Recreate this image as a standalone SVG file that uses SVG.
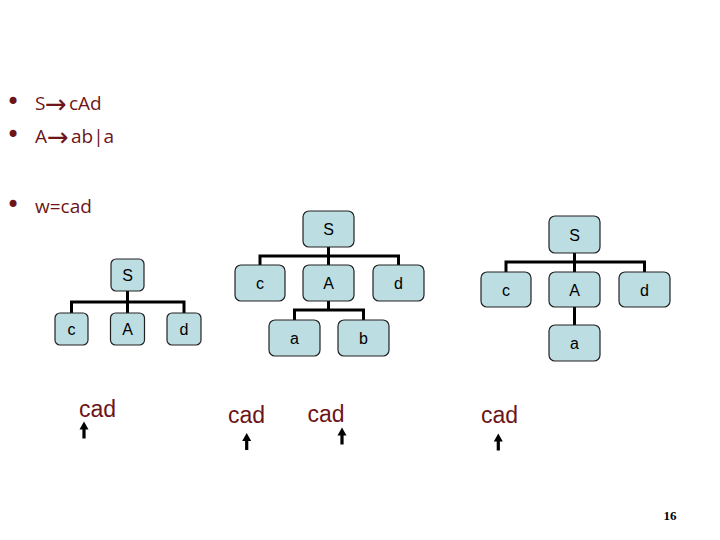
<svg xmlns="http://www.w3.org/2000/svg" width="720" height="540" viewBox="0 0 720 540">
<style>
.bul{font-family:"Open Sans","Noto Sans",sans-serif;font-size:19px;fill:#6d1519}
.dot{font-family:"DejaVu Sans",sans-serif;font-size:24px;fill:#6d1519;text-anchor:middle}
.arr{font-family:"DejaVu Sans",sans-serif;font-size:26px;fill:#6d1519}
.box{fill:#bcdde1;stroke:#222;stroke-width:1.2}
.lbl{font-family:"Liberation Sans",Arial,sans-serif;font-size:16px;fill:#000;text-anchor:middle}
.con{stroke:#000;stroke-width:3;fill:none}
.cad{font-family:"Liberation Sans",Arial,sans-serif;font-size:23px;fill:#6d1519}
.pn{font-family:"Liberation Serif","Times New Roman",serif;font-size:13px;font-weight:bold;fill:#000;text-anchor:middle}
</style>
<defs>
<path id="up" d="M0,0 L-4.5,8 L-1.6,8 L-1.6,17 L1.6,17 L1.6,8 L4.5,8 Z" fill="#000"/>
</defs>
<rect width="720" height="540" fill="#fff"/>

<g id="bullets">
<text class="dot" x="13" y="110">•</text>
<text class="bul" x="35" y="110">S</text>
<text class="arr" x="45" y="113">→</text>
<text class="bul" x="69" y="110">cAd</text>
<text class="dot" x="13" y="143">•</text>
<text class="bul" x="35" y="143">A</text>
<text class="arr" x="47" y="146">→</text>
<text class="bul" x="71" y="143">ab|a</text>
<text class="dot" x="13" y="213">•</text>
<text class="bul" x="35" y="213">w=cad</text>
</g>

<g id="connectors">
<path class="con" d="M127.5,291 V302 M71.5,313 V302 H184 V313 M127.5,302 V313"/>
<path class="con" d="M328.5,247 V256 M260,265 V256 H398.5 V265 M328.5,256 V265"/>
<path class="con" d="M328.5,301 V310 M294.5,320 V310 H363.5 V320"/>
<path class="con" d="M574.5,253 V262 M506,272 V262 H644.5 V272 M574.5,262 V272"/>
<path class="con" d="M574.5,307 V325"/>
</g>

<g id="t1-S"><rect class="box" x="111" y="259" width="33" height="32" rx="5"/><text class="lbl" x="127.5" y="281">S</text></g>
<g id="t1-c"><rect class="box" x="55" y="313" width="33" height="32" rx="5"/><text class="lbl" x="71.5" y="335">c</text></g>
<g id="t1-A"><rect class="box" x="110.5" y="313" width="34" height="32" rx="5"/><text class="lbl" x="127.5" y="335">A</text></g>
<g id="t1-d"><rect class="box" x="167" y="313" width="34" height="32" rx="5"/><text class="lbl" x="184" y="335">d</text></g>

<g id="t2-S"><rect class="box" x="303" y="211" width="51" height="36" rx="6"/><text class="lbl" x="328.5" y="235">S</text></g>
<g id="t2-c"><rect class="box" x="235" y="265" width="50" height="36" rx="6"/><text class="lbl" x="260" y="289">c</text></g>
<g id="t2-A"><rect class="box" x="303" y="265" width="51" height="36" rx="6"/><text class="lbl" x="328.5" y="289">A</text></g>
<g id="t2-d"><rect class="box" x="373" y="265" width="51" height="36" rx="6"/><text class="lbl" x="398.5" y="289">d</text></g>
<g id="t2-a"><rect class="box" x="269" y="320" width="51" height="36" rx="6"/><text class="lbl" x="294.5" y="344">a</text></g>
<g id="t2-b"><rect class="box" x="338" y="320" width="51" height="36" rx="6"/><text class="lbl" x="363.5" y="344">b</text></g>

<g id="t3-S"><rect class="box" x="549" y="216" width="51" height="37" rx="6"/><text class="lbl" x="574.5" y="240.5">S</text></g>
<g id="t3-c"><rect class="box" x="481" y="272" width="50" height="35" rx="6"/><text class="lbl" x="506" y="295.5">c</text></g>
<g id="t3-A"><rect class="box" x="549" y="272" width="51" height="35" rx="6"/><text class="lbl" x="574.5" y="295.5">A</text></g>
<g id="t3-d"><rect class="box" x="619" y="272" width="51" height="35" rx="6"/><text class="lbl" x="644.5" y="295.5">d</text></g>
<g id="t3-a"><rect class="box" x="549" y="325" width="51" height="36" rx="6"/><text class="lbl" x="574.5" y="349">a</text></g>

<g id="pointers">
<text class="cad" x="79" y="417">cad</text>
<use href="#up" x="84" y="421.5"/>
<text class="cad" x="228" y="423">cad</text>
<use href="#up" x="246.7" y="433"/>
<text class="cad" x="307.5" y="422">cad</text>
<use href="#up" x="342" y="427.5"/>
<text class="cad" x="481" y="423">cad</text>
<use href="#up" x="498.3" y="433.5"/>
</g>

<text class="pn" x="670" y="520">16</text>
</svg>
